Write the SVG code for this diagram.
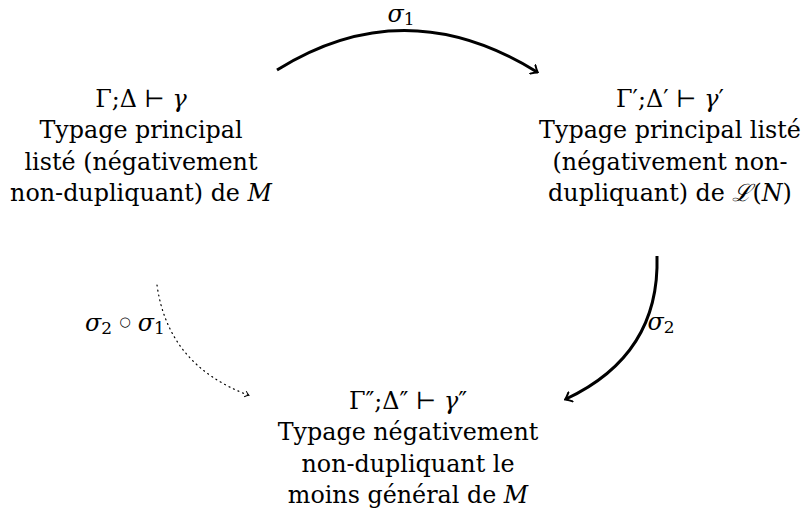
<svg xmlns="http://www.w3.org/2000/svg" width="805" height="525" viewBox="0 0 805 525">
<style>
text{font-family:'DejaVu Serif',serif;font-size:23.8px;fill:#000;text-anchor:middle}
.i{font-style:italic}
.s{font-size:17px}
.c{fill:none;stroke:#000;stroke-width:3}
.d{fill:none;stroke:#000;stroke-width:1.2;stroke-dasharray:1 4;stroke-linecap:round}
</style>
<defs>
<marker id="a" viewBox="-6 -6 8 12" markerWidth="8" markerHeight="12" refX="0" refY="0" orient="auto" markerUnits="userSpaceOnUse">
<path d="M-5,-5 Q-1,-1 1,0 Q-1,1 -5,5" fill="none" stroke="#000" stroke-width="2" stroke-linecap="round"/>
</marker>
<marker id="s" viewBox="-4 -4 6 8" markerWidth="6" markerHeight="8" refX="0" refY="0" orient="auto" markerUnits="userSpaceOnUse">
<path d="M-3,-3 Q-1,-1 1,0 Q-1,1 -3,3" fill="none" stroke="#000" stroke-width="1"/>
</marker>
</defs>
<g id="connectors">
<path class="c" d="M277,70 Q405,-10 537,72" marker-end="url(#a)"/>
<text x="401" y="22"><tspan class="i">σ</tspan><tspan class="s" dy="3">1</tspan></text>
<path class="c" d="M657,256 Q660,355 566,399" marker-end="url(#a)"/>
<text x="661" y="330"><tspan class="i">σ</tspan><tspan class="s" dy="3">2</tspan></text>
<path class="d" d="M157,285 Q168,365 248,395" marker-end="url(#s)"/>
<text x="125" y="331"><tspan class="i">σ</tspan><tspan class="s" dy="3">2</tspan><tspan font-size="13" dx="3" dy="-8"> ○ </tspan><tspan class="i" dx="3" dy="5">σ</tspan><tspan class="s" dy="3">1</tspan></text>
</g>
<g id="n1">
<text x="141" y="107">Γ;Δ ⊢ <tspan class="i">γ</tspan></text>
<text x="141" y="138">Typage principal</text>
<text x="141" y="170">listé (négativement</text>
<text x="141" y="201">non-dupliquant) de <tspan class="i">M</tspan></text>
</g>
<g id="n2">
<text x="670" y="107">Γ′;Δ′ ⊢ <tspan class="i">γ</tspan>′</text>
<text x="670" y="138">Typage principal listé</text>
<text x="670" y="170">(négativement non-</text>
<text x="670" y="201">dupliquant) de <tspan class="i">ℒ</tspan>(<tspan class="i">N</tspan>)</text>
</g>
<g id="n3">
<text x="408" y="409">Γ″;Δ″ ⊢ <tspan class="i">γ</tspan>″</text>
<text x="408" y="440">Typage négativement</text>
<text x="408" y="472">non-dupliquant le</text>
<text x="408" y="503">moins général de <tspan class="i">M</tspan></text>
</g>
</svg>
